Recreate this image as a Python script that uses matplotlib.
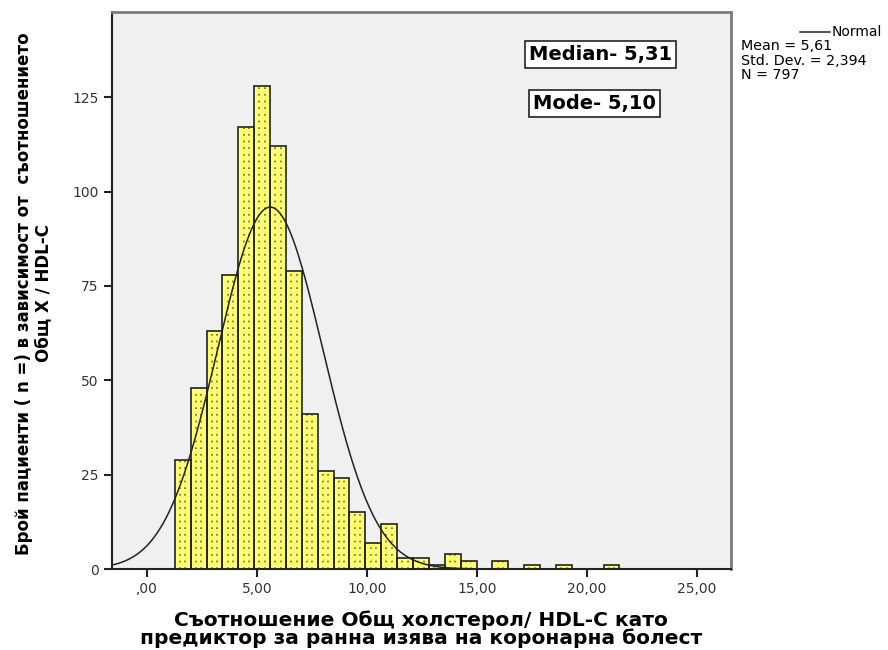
import matplotlib
matplotlib.use("Agg")
import matplotlib.pyplot as plt
import numpy as np

plt.rcParams['font.family'] = ['DejaVu Sans']

# histogram counts, SPSS bins
counts = [29, 48, 63, 78, 117, 128, 112, 79, 41, 26, 24, 15, 7, 12,
          3, 3, 1, 4, 2, 0, 2, 0, 1, 0, 1, 0, 0, 1]
bin_start = 1.27
bin_width = 0.722
mean_val = 5.61
std_val = 2.394
n_val = 797
median_txt = "Median- 5,31"
mode_txt = "Mode- 5,10"
xticks = [0, 5, 10, 15, 20, 25]
xticklabels = [",00", "5,00", "10,00", "15,00", "20,00", "25,00"]
yticks = [0, 25, 50, 75, 100, 125]

edges = bin_start + bin_width * np.arange(len(counts))
cnt = np.array(counts)

fig = plt.figure(figsize=(8.88, 6.5), dpi=100)
ax = fig.add_axes([0.126, 0.1246, 0.697, 0.857])
ax.set_facecolor('#f0f0f0')

ax.bar(edges, counts, width=bin_width, align='edge', color='#ffff70',
       edgecolor='none', linewidth=0, zorder=2)
# dotted pattern inside bars: two dotted columns per bar
nz = cnt > 0
for frac in (0.33, 0.67):
    ax.vlines(edges[nz] + bin_width * frac, 0, cnt[nz], colors='#6a6a48',
              linestyles=(0, (1, 3)), linewidth=1.2, zorder=3)
ax.bar(edges, counts, width=bin_width, align='edge', color='none',
       edgecolor='#222222', linewidth=1.2, zorder=4)

xs = np.linspace(-1.6, 26.6, 500)
ys = n_val * bin_width / (std_val * np.sqrt(2 * np.pi)) * np.exp(-0.5 * ((xs - mean_val) / std_val) ** 2)
ax.plot(xs, ys, color='#222222', linewidth=1.1, zorder=5)

ax.set_xlim(-1.59, 26.55)
ax.set_ylim(0, 147.6)
ax.set_xticks(xticks)
ax.set_xticklabels(xticklabels)
ax.set_yticks(yticks)
ax.tick_params(axis='both', labelsize=10, labelcolor='#333333', length=6, width=1.5,
               color='#222222')

for s in ['top', 'right']:
    ax.spines[s].set_color('#7a7a7a')
    ax.spines[s].set_linewidth(2)
for s in ['left', 'bottom']:
    ax.spines[s].set_color('#222222')
    ax.spines[s].set_linewidth(1.5)

ax.set_ylabel("Брой пациенти ( n =) в зависимост от  съотношението\nОбщ Х / HDL-C",
              fontsize=12, fontweight='bold', linespacing=1.05)
ax.set_xlabel("Съотношение Общ холстерол/ HDL-C като\nпредиктор за ранна изява на коронарна болест",
              fontsize=14.5, fontweight='bold', linespacing=0.95, labelpad=10)
ax.yaxis.set_label_coords(-0.097, 0.495)

box = dict(boxstyle='square,pad=0.2', facecolor='white', edgecolor='#222222', linewidth=1.2)
ax.text(0.789, 0.923, median_txt, transform=ax.transAxes, fontsize=14,
        fontweight='bold', ha='center', va='center', bbox=box, zorder=6)
ax.text(0.78, 0.835, mode_txt, transform=ax.transAxes, fontsize=14,
        fontweight='bold', ha='center', va='center', bbox=box, zorder=6)

# legend outside, right side
fig.add_artist(plt.Line2D([800 / 888, 830 / 888], [1 - 32 / 650, 1 - 32 / 650],
                          color='#222222', linewidth=1.1))
fig.text(832 / 888, 1 - 32 / 650, "Normal", fontsize=10, va='center', ha='left')
fig.text(741 / 888, 1 - 46 / 650, "Mean = 5,61", fontsize=10.3, va='center', ha='left')
fig.text(741 / 888, 1 - 61 / 650, "Std. Dev. = 2,394", fontsize=10.3, va='center', ha='left')
fig.text(741 / 888, 1 - 75 / 650, "N = 797", fontsize=10.3, va='center', ha='left')

fig.savefig("out.png", dpi=100, facecolor='white')
